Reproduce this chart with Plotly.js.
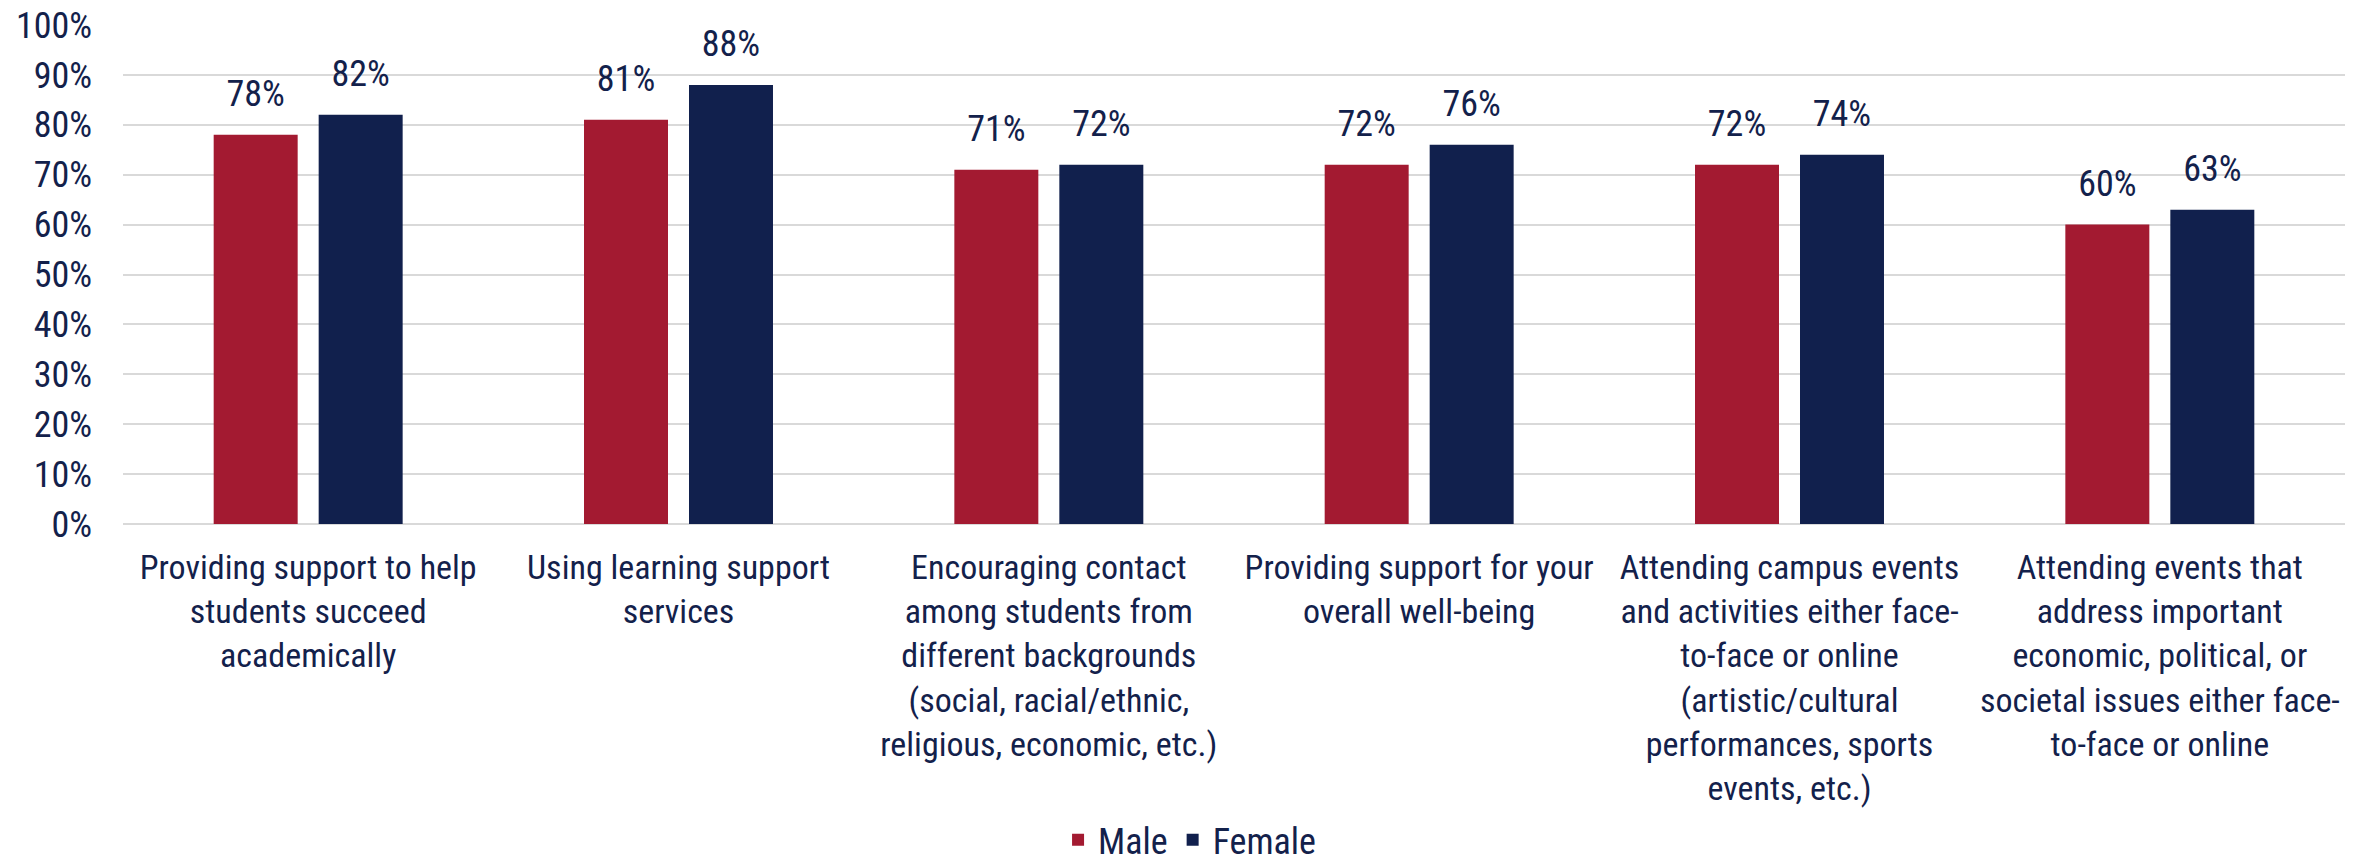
<!DOCTYPE html>
<html>
<head>
<meta charset="utf-8">
<script src="https://cdn.plot.ly/plotly-3.0.1.min.js"></script>
<style>
  html, body { margin: 0; padding: 0; background: #ffffff; }
  #chart { width: 2356px; height: 864px; }
</style>
</head>
<body>
<div id="chart"></div>
<script>
// ---- Data ----
const categories = [
  "Providing support to help<br>students succeed<br>academically",
  "Using learning support<br>services",
  "Encouraging contact<br>among students from<br>different backgrounds<br>(social, racial/ethnic,<br>religious, economic, etc.)",
  "Providing support for your<br>overall well-being",
  "Attending campus events<br>and activities either face-<br>to-face or online<br>(artistic/cultural<br>performances, sports<br>events, etc.)",
  "Attending events that<br>address important<br>economic, political, or<br>societal issues either face-<br>to-face or online"
];
const seriesNames = ["Male", "Female"];
const maleValues = [78, 81, 71, 72, 72, 60];
const femaleValues = [82, 88, 72, 76, 74, 63];

// ---- Styles ----
const FONT = '"Liberation Sans Narrow", "Arial Narrow", "Roboto Condensed", "Liberation Sans", Arial, sans-serif';
const TEXT_COLOR = '#13214B';
const MALE_COLOR = '#A31A31';
const FEMALE_COLOR = '#11204D';

function barTrace(name, values, color, group) {
  return {
    type: 'bar', name: name, x: categories, y: values,
    offsetgroup: group, alignmentgroup: 'a',
    marker: { color: color },
    hoverinfo: 'skip'
  };
}
function labelTrace(values, group) {
  return {
    type: 'scatter', mode: 'markers+text', x: categories, y: values,
    offsetgroup: group, alignmentgroup: 'a',
    text: values.map(v => v + '%'),
    textposition: 'top center',
    textfont: { family: FONT, size: 36, color: TEXT_COLOR },
    marker: { size: 30, opacity: 0 },
    showlegend: false, hoverinfo: 'skip', cliponaxis: false
  };
}

const data = [
  barTrace(seriesNames[0], maleValues, MALE_COLOR, 'm'),
  barTrace(seriesNames[1], femaleValues, FEMALE_COLOR, 'f'),
  labelTrace(maleValues, 'm'),
  labelTrace(femaleValues, 'f')
];

const layout = {
  width: 2356, height: 864,
  paper_bgcolor: '#ffffff', plot_bgcolor: '#ffffff',
  margin: { l: 123, r: 11, t: 25, b: 340, autoexpand: false },
  font: { family: FONT, color: TEXT_COLOR, size: 36 },
  barmode: 'group', bargap: 0.433, bargroupgap: 0.2,
  scattermode: 'group', scattergap: 0.433,
  showlegend: true,
  legend: {
    orientation: 'h', x: 0.48, xanchor: 'center', y: -0.633, yanchor: 'middle',
    font: { family: FONT, size: 36, color: TEXT_COLOR },
    traceorder: 'normal'
  },
  xaxis: {
    type: 'category', automargin: false,
    tickfont: { family: FONT, size: 34, color: TEXT_COLOR },
    ticks: '', ticklabelstandoff: 20,
    showgrid: false, zeroline: false, showline: false,
    fixedrange: true
  },
  yaxis: {
    range: [0, 100], dtick: 10, ticksuffix: '%', automargin: false,
    tickfont: { family: FONT, size: 36, color: TEXT_COLOR },
    showgrid: true, gridcolor: '#D9D9D9', gridwidth: 2,
    zeroline: true, zerolinecolor: '#D9D9D9', zerolinewidth: 2,
    showline: false, ticks: '', ticklabelstandoff: 30,
    fixedrange: true
  }
};

Plotly.newPlot('chart', data, layout, { displayModeBar: false, staticPlot: true });
</script>
</body>
</html>
